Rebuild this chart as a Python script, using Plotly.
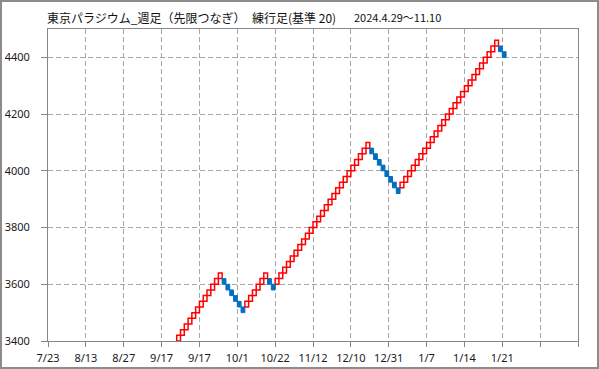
import plotly.graph_objects as go

# ---- data ----
title_name = "東京パラジウム_週足（先限つなぎ）"
title_kind = "練行足(基準 20)"
title_period = "2024.4.29～11.10"

brick_size = 20
first_slot = 34   # slot index of first visible brick
total_slots = 140

brick_low = [
    3400, 3420, 3440, 3460, 3480, 3500, 3520, 3540, 3560, 3580, 3600, 3620,
    3600, 3580, 3560, 3540, 3520, 3500,
    3520, 3540, 3560, 3580, 3600, 3620,
    3600, 3580,
    3600, 3620, 3640, 3660, 3680, 3700, 3720, 3740, 3760, 3780, 3800, 3820,
    3840, 3860, 3880, 3900, 3920, 3940, 3960, 3980, 4000, 4020, 4040, 4060, 4080,
    4060, 4040, 4020, 4000, 3980, 3960, 3940, 3920,
    3940, 3960, 3980, 4000, 4020, 4040, 4060, 4080, 4100, 4120, 4140, 4160, 4180,
    4200, 4220, 4240, 4260, 4280, 4300, 4320, 4340, 4360, 4380, 4400, 4420, 4440,
    4420, 4400,
]

x_tick_labels = ["7/23", "8/13", "8/27", "9/17", "9/17", "10/1", "10/22",
                 "11/12", "12/10", "12/31", "1/7", "1/14", "1/21", "", ""]
y_ticks = [3400, 3600, 3800, 4000, 4200, 4400]

# ---- split into up / down bricks ----
up_x, up_base, dn_x, dn_base = [], [], [], []
for i, low in enumerate(brick_low):
    is_up = True if i == 0 else low > brick_low[i - 1]
    x = first_slot + i + 0.5
    if is_up:
        up_x.append(x); up_base.append(low)
    else:
        dn_x.append(x); dn_base.append(low)

fig = go.Figure()
fig.add_trace(go.Bar(
    x=up_x, y=[brick_size] * len(up_x), base=up_base, width=1.0,
    marker=dict(color="white", line=dict(color="#FF0000", width=1.5)),
    hoverinfo="skip", showlegend=False,
))
fig.add_trace(go.Bar(
    x=dn_x, y=[brick_size] * len(dn_x), base=dn_base, width=1.0,
    marker=dict(color="#0070C0", line=dict(color="#0070C0", width=1)),
    hoverinfo="skip", showlegend=False,
))

W, H = 599, 369
L, R, T, B = 48, 21, 29, 28
pw, ph = W - L - R, H - T - B

def px_x(p):
    return (p - L) / pw

def px_y(p):
    return (H - B - p) / ph

grid_col = "#A6A6A6"
axis_col = "#868686"
tick_font = dict(family="Noto Sans, DejaVu Sans, sans-serif", size=11, color="#1a1a1a")

fig.update_layout(
    width=W, height=H,
    margin=dict(l=L, r=R, t=T, b=B, pad=0, autoexpand=False),
    paper_bgcolor="white", plot_bgcolor="white",
    barmode="overlay", bargap=0,
    xaxis=dict(
        range=[0, total_slots], automargin=False,
        tickmode="array",
        tickvals=list(range(0, total_slots + 1, 10)),
        ticktext=x_tick_labels,
        showgrid=True, gridcolor=grid_col, gridwidth=1, griddash="5px,3px",
        showline=True, linecolor=axis_col, linewidth=1, mirror=True,
        ticks="outside", ticklen=5, tickcolor=axis_col, ticklabelstandoff=2,
        tickfont=tick_font, zeroline=False, fixedrange=True,
    ),
    yaxis=dict(
        range=[3400, 4500], automargin=False,
        tickmode="array", tickvals=y_ticks, tickformat="d",
        showgrid=True, gridcolor=grid_col, gridwidth=1, griddash="5px,3px",
        showline=True, linecolor=axis_col, linewidth=1, mirror=True,
        ticks="outside", ticklen=6, tickcolor=axis_col, ticklabelstandoff=9,
        tickfont=tick_font, zeroline=False, fixedrange=True,
    ),
    shapes=[dict(
        type="rect", xref="paper", yref="paper",
        x0=px_x(1), x1=px_x(598), y0=px_y(368), y1=px_y(1),
        line=dict(color="#8C8C8C", width=2), fillcolor="rgba(0,0,0,0)",
        layer="above",
    )],
)

title_font = dict(family="Noto Sans CJK JP, sans-serif", size=12, color="#111111")
date_font = dict(family="Noto Sans CJK JP, sans-serif", size=11, color="#111111")
for text, xp, fnt in [(title_name, 45, title_font), (title_kind, 250, title_font),
                      (title_period, 352, date_font)]:
    fig.add_annotation(
        text=text, xref="paper", yref="paper",
        x=px_x(xp), y=px_y(17.5), xanchor="left", yanchor="middle",
        showarrow=False, font=fnt,
    )

fig.write_html(
    "out.html",
    config={"displayModeBar": False, "staticPlot": True},
    post_script="document.body.style.margin='0';document.body.style.padding='0';document.body.style.overflow='hidden';",
)
